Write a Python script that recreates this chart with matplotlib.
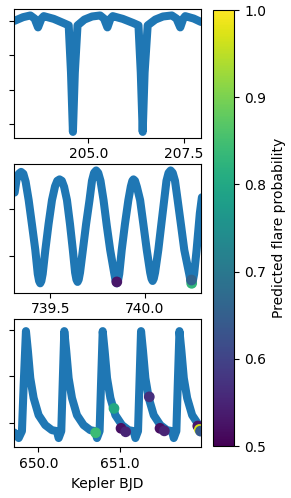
import numpy as np
import matplotlib
matplotlib.use("Agg")
import matplotlib.pyplot as plt
from matplotlib.ticker import FormatStrFormatter

# panel 1: eclipsing binary
t1 = [203.07, 203.30, 203.49, 203.60, 203.69, 203.78, 203.84, 204.10, 204.35, 204.49,
      204.55, 204.60, 204.65, 204.72, 204.90, 205.10, 205.31, 205.41, 205.50, 205.58,
      205.64, 205.90, 206.17, 206.31, 206.37, 206.42, 206.47, 206.55, 206.75, 206.95,
      207.18, 207.30, 207.40, 207.48, 207.53, 207.75, 207.94]
f1 = [1.001, 1.012, 1.017, 1.008, 0.982, 1.008, 1.015, 1.007, 0.995, 0.988,
      0.850, 0.676, 0.850, 0.988, 1.005, 1.014, 1.017, 1.008, 0.982, 1.008,
      1.015, 1.007, 0.995, 0.988, 0.850, 0.676, 0.850, 0.988, 1.005, 1.014,
      1.017, 1.008, 0.982, 1.008, 1.015, 1.008, 0.998]

# panel 2: spotted / ellipsoidal variable
t2 = [739.312, 739.322, 739.334, 739.346, 739.358, 739.370, 739.386, 739.404, 739.421, 739.434,
      739.441, 739.447, 739.453, 739.460, 739.474, 739.491, 739.509, 739.525, 739.537, 739.549,
      739.561, 739.573, 739.588, 739.604, 739.619, 739.631, 739.638, 739.644, 739.650, 739.657,
      739.672, 739.689, 739.707, 739.720, 739.731, 739.742, 739.753, 739.765, 739.781, 739.798,
      739.816, 739.838, 739.845, 739.851, 739.857, 739.864, 739.877, 739.894, 739.912, 739.925,
      739.933, 739.939, 739.947, 739.957, 739.974, 739.991, 740.009, 740.027, 740.034, 740.040,
      740.046, 740.053, 740.070, 740.086, 740.101, 740.113, 740.124, 740.135, 740.146, 740.158,
      740.172, 740.190, 740.207, 740.233, 740.240, 740.246, 740.252, 740.259, 740.272, 740.289,
      740.300]
f2 = [1.0035, 1.0062, 1.0075, 1.0079, 1.0075, 1.0058, 1.0019, 0.9965, 0.9913, 0.9862,
      0.9847, 0.9842, 0.9847, 0.9862, 0.9913, 0.9968, 1.0019, 1.0048, 1.0060, 1.0063,
      1.0060, 1.0047, 1.0019, 0.9968, 0.9913, 0.9865, 0.9850, 0.9845, 0.9850, 0.9865,
      0.9913, 0.9968, 1.0019, 1.0060, 1.0077, 1.0082, 1.0077, 1.0060, 1.0019, 0.9965,
      0.9913, 0.9862, 0.9847, 0.9842, 0.9847, 0.9862, 0.9913, 0.9968, 1.0019, 1.0048,
      1.0060, 1.0063, 1.0060, 1.0047, 1.0019, 0.9968, 0.9913, 0.9865, 0.9852, 0.9847,
      0.9852, 0.9865, 0.9913, 0.9968, 1.0019, 1.0060, 1.0077, 1.0082, 1.0077, 1.0060,
      1.0019, 0.9965, 0.9913, 0.9862, 0.9847, 0.9842, 0.9847, 0.9862, 0.9913, 0.9991,
      1.0025]
t2_flare = [739.851, 740.246, 740.245]
f2_flare = [0.9845, 0.9842, 0.9849]
p2_flare = [0.53, 0.83, 0.66]

# panel 3: RR Lyrae-like pulsator
t3 = [649.706, 649.760, 649.800, 649.821, 649.849, 649.873, 649.902, 649.943, 650.004, 650.085,
      650.167, 650.228, 650.249, 650.281, 650.298, 650.318, 650.342, 650.371, 650.412, 650.473,
      650.554, 650.636, 650.697, 650.718, 650.750, 650.767, 650.788, 650.812, 650.841, 650.882,
      650.943, 651.024, 651.106, 651.167, 651.188, 651.220, 651.237, 651.257, 651.281, 651.310,
      651.351, 651.412, 651.493, 651.575, 651.636, 651.657, 651.689, 651.706, 651.727, 651.751,
      651.780, 651.821, 651.882, 651.963, 651.990]
f3 = [0.9958, 0.9934, 0.9964, 1.0163, 1.0396, 1.0310, 1.0193, 1.0107, 1.0033, 0.9990,
      0.9968, 0.9964, 0.9934, 0.9964, 1.0163, 1.0396, 1.0310, 1.0193, 1.0107, 1.0033,
      0.9990, 0.9968, 0.9964, 0.9934, 0.9964, 1.0163, 1.0396, 1.0310, 1.0193, 1.0107,
      1.0033, 0.9990, 0.9968, 0.9964, 0.9934, 0.9964, 1.0163, 1.0396, 1.0310, 1.0193,
      1.0107, 1.0033, 0.9990, 0.9968, 0.9964, 0.9934, 0.9964, 1.0163, 1.0396, 1.0310,
      1.0193, 1.0107, 1.0033, 0.9990, 0.9985]
t3_flare = [650.702, 650.926, 651.012, 651.069, 651.358, 651.489, 651.542, 651.951, 651.970, 651.984]
f3_flare = [0.9957, 1.0062, 0.9976, 0.9961, 1.0112, 0.9976, 0.9965, 0.9986, 0.9971, 0.9964]
p3_flare = [0.84, 0.80, 0.52, 0.55, 0.57, 0.52, 0.55, 0.53, 0.97, 0.64]

fig = plt.figure(figsize=(2.91, 4.98), dpi=100)
ax1 = fig.add_axes([0.049, 0.7235, 0.6416, 0.2578])
ax2 = fig.add_axes([0.049, 0.4122, 0.6416, 0.2578])
ax3 = fig.add_axes([0.049, 0.1018, 0.6416, 0.2570])
cax = fig.add_axes([0.731, 0.1044, 0.0742, 0.8755])

norm = plt.Normalize(0.5, 1.0)
blue = "#1f77b4"
lw = 5.8

ax1.plot(t1, f1, color=blue, lw=lw, solid_joinstyle="round", solid_capstyle="round")
ax1.set_xlim(203.07, 207.94)
ax1.set_ylim(0.659, 1.035)
ax1.set_xticks([205.0, 207.5])
ax1.set_yticks([0.7, 0.8, 0.9, 1.0])

ax2.plot(t2, f2, color=blue, lw=lw, solid_joinstyle="round", solid_capstyle="round")
ax2.scatter(t2_flare, f2_flare, c=p2_flare, cmap="viridis", norm=norm, s=45, zorder=3)
ax2.set_xlim(739.31, 740.295)
ax2.set_ylim(0.9822, 1.0095)
ax2.set_xticks([739.5, 740.0])
ax2.set_yticks([0.99, 1.00])

ax3.plot(t3, f3, color=blue, lw=lw, solid_joinstyle="round", solid_capstyle="round")
ax3.scatter(t3_flare, f3_flare, c=p3_flare, cmap="viridis", norm=norm, s=45, zorder=3)
ax3.set_xlim(649.706, 651.99)
ax3.set_ylim(0.9894, 1.0447)
ax3.set_xticks([650.0, 651.0])
ax3.set_yticks([1.00, 1.02, 1.04])
ax3.set_xlabel("Kepler BJD")

for ax in (ax1, ax2, ax3):
    ax.set_yticklabels([])
    ax.xaxis.set_major_formatter(FormatStrFormatter("%.1f"))

sm = plt.cm.ScalarMappable(norm=norm, cmap="viridis")
cb = fig.colorbar(sm, cax=cax)
cb.set_ticks([0.5, 0.6, 0.7, 0.8, 0.9, 1.0])
cb.set_label("Predicted flare probability")

fig.savefig("out.png", dpi=100)
